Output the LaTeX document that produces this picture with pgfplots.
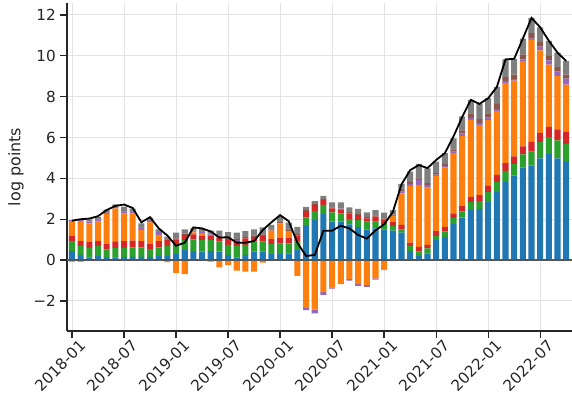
\documentclass[border=0pt]{standalone}
\usepackage{pgfplots}
\pgfplotsset{compat=1.18}
\usepackage{pgfplotstable}
\usetikzlibrary{calc}
\usepackage{fontspec}
\setmainfont{DejaVu Sans}
\definecolor{cB}{HTML}{1F77B4}
\definecolor{cO}{HTML}{FF7F0E}
\definecolor{cG}{HTML}{2CA02C}
\definecolor{cR}{HTML}{D62728}
\definecolor{cP}{HTML}{9467BD}
\definecolor{cBr}{HTML}{8C564B}
\definecolor{cGy}{HTML}{7F7F7F}
\definecolor{gridc}{HTML}{E3E3E3}
\definecolor{spine}{HTML}{262626}
\definecolor{zeroc}{HTML}{555555}

\pgfplotstableread{
m B G R O P Br Gy On Pn Gyn L
0 0.44 0.49 0.25 0.73 0.05 0 0 0 0 -0.08 1.93
1 0.25 0.44 0.24 0.98 0.05 0 0 0 0 -0.08 2.00
2 0.13 0.47 0.30 0.90 0.08 0.02 0.08 0 0 0 2.03
3 0.20 0.49 0.24 0.95 0.08 0.02 0.14 0 0 0 2.15
4 0.11 0.41 0.26 1.47 0.07 0.03 0.12 0 0 0 2.45
5 0.13 0.47 0.31 1.62 0.08 0.02 0.10 0 0 0 2.65
6 0.15 0.45 0.33 1.36 0.08 0.04 0.20 0 0 0 2.72
7 0.16 0.46 0.33 1.34 0.08 0.03 0.12 0 0 0 2.55
8 0.16 0.46 0.31 0.54 0.10 0.03 0.20 0 0 0 1.85
9 0.16 0.38 0.24 1.07 0.08 0.02 0.12 0 0 0 2.10
10 0.21 0.41 0.31 0.30 0.15 0.02 0.10 0 0 0 1.55
11 0.21 0.48 0.29 0 0.05 0.02 0.10 -0.10 0 0 1.20
12 0.29 0.45 0.24 0 0.04 0.04 0.28 -0.62 0 0 0.70
13 0.49 0.49 0.25 0 0 0.07 0.20 -0.69 0 0 0.85
14 0.44 0.57 0.25 0.10 0.04 0.04 0.14 0 0 0 1.60
15 0.41 0.57 0.22 0.12 0.05 0.03 0.12 0 0 0 1.55
16 0.44 0.54 0.23 0 0.05 0.04 0.14 -0.08 0 0 1.40
17 0.41 0.49 0.20 0 0.04 0.06 0.24 -0.36 0 0 1.10
18 0.25 0.49 0.29 0 0 0.05 0.29 -0.25 0 0 1.12
19 0.13 0.56 0.25 0 0.05 0.04 0.31 -0.52 0 0 0.85
20 0.25 0.49 0.32 0 0 0.06 0.30 -0.57 0 0 0.85
21 0.41 0.49 0.24 0 0 0.06 0.30 -0.57 0 0 0.93
22 0.41 0.49 0.29 0 0 0.06 0.35 -0.13 0 0 1.47
23 0.29 0.49 0.25 0.41 0 0.06 0.22 0 0 0 1.85
24 0.29 0.53 0.28 0.70 0 0.08 0.26 0 0 0 2.20
25 0.33 0.49 0.26 0.34 0 0.08 0.33 0 0 0 1.90
26 0.49 0.41 0.30 0 0 0.08 0.35 -0.77 0 0 0.84
27 1.68 0.41 0.30 0 0 0.06 0.15 -2.34 -0.11 0 0.20
28 1.96 0.44 0.30 0 0 0.05 0.14 -2.42 -0.19 0 0.25
29 2.25 0.45 0.24 0 0 0.04 0.16 -1.57 -0.13 0 1.44
30 1.88 0.46 0.19 0 0 0.05 0.25 -1.34 -0.06 0 1.44
31 1.88 0.41 0.19 0 0.04 0 0.31 -1.18 0 0 1.68
32 1.75 0.26 0.28 0 0 0.06 0.23 -0.93 -0.08 0 1.55
33 1.63 0.33 0.24 0 0 0.06 0.24 -1.18 -0.08 0 1.23
34 1.50 0.38 0.16 0 0 0.06 0.24 -1.23 -0.08 0 1.05
35 1.55 0.33 0.25 0 0 0.06 0.26 -0.90 -0.05 0 1.45
36 1.50 0.26 0.23 0 0 0.05 0.28 -0.46 -0.03 0 1.75
37 1.44 0.23 0.19 0.30 0.04 0.03 0.22 0 -0.05 0 2.35
38 1.34 0.16 0.22 1.55 0.08 0.08 0.30 0 0 0 3.70
39 0.44 0.25 0.16 2.78 0.10 0.10 0.50 0 0 0 4.40
40 0.20 0.21 0.24 3.03 0.24 0.08 0.71 0 0 0 4.65
41 0.33 0.24 0.17 2.81 0.13 0.08 0.73 0 0 0 4.50
42 0.98 0.21 0.23 2.70 0.06 0.08 0.56 0 0 0 4.90
43 1.14 0.25 0.24 2.90 0.08 0.10 0.52 0 0 0 5.23
44 1.76 0.30 0.23 2.94 0.08 0.10 0.55 0 0 0 6.05
45 2.08 0.30 0.28 3.42 0.12 0.15 0.68 0 0 0 7.00
46 2.44 0.40 0.25 3.76 0.11 0.22 0.66 0 0 0 7.84
47 2.51 0.38 0.29 3.42 0.12 0.18 0.74 0 0 0 7.64
48 2.84 0.49 0.30 3.22 0.12 0.21 0.74 0 0 0 7.92
49 3.33 0.50 0.34 3.12 0.10 0.25 0.83 0 0 0 8.47
50 3.83 0.54 0.37 3.92 0.10 0.20 0.86 0 0 0 9.82
51 4.13 0.57 0.37 3.71 0.08 0.22 0.77 0 0 0 9.85
52 4.54 0.63 0.39 4.18 0.08 0.25 0.77 0 0 0 10.84
53 4.62 0.69 0.47 4.98 0.08 0.26 0.75 0 0 0 11.85
54 4.98 0.80 0.44 4.04 0.19 0.23 0.71 0 0 0 11.39
55 5.18 0.84 0.50 3.05 0.20 0.21 0.75 0 0 0 10.73
56 4.98 0.88 0.54 2.60 0.22 0.22 0.71 0 0 0 10.15
57 4.79 0.90 0.58 2.31 0.30 0.20 0.66 0 0 0 9.74
}\data

\pgfplotsset{
  base/.style={scale only axis, width=505bp, height=328bp,
    xmin=-0.58, xmax=57.67, ymin=-3.47, ymax=12.58},
}

\begin{document}
\begin{tikzpicture}
\begin{axis}[base, ybar stacked, bar width=0.7,
  axis x line*=bottom, axis y line*=left,
  axis line style={color=spine, line width=1.3bp},
  grid=major, grid style={color=gridc, line width=1bp},
  xtick={0,6,...,54},
  xticklabels={2018-01,2018-07,2019-01,2019-07,2020-01,2020-07,2021-01,2021-07,2022-01,2022-07},
  ytick={-2,0,...,12},
  yticklabels={−2,0,2,4,6,8,10,12},
  tick align=outside, major tick length=7bp,
  tick style={color=spine, line width=1.3bp},
  /pgf/number format/assume math mode=true,
  tick label style={font=\fontsize{15.3}{16}\selectfont, text=spine},
  xticklabel style={rotate=45, anchor=north east, inner sep=1bp, xshift=5bp, yshift=-4bp},
  yticklabel style={inner sep=2bp, xshift=-2bp},
  ylabel={log points},
  ylabel style={font=\fontsize{16}{17}\selectfont, text=spine,
    at={(axis description cs:-0.101,0.5)}, anchor=center},
  every axis plot/.append style={draw=none},
]
\coordinate (sw) at (rel axis cs:0,0);
\coordinate (ne) at (rel axis cs:1,1);
\addplot[fill=cB] table[x=m,y=B]{\data};
\addplot[fill=cG] table[x=m,y=G]{\data};
\addplot[fill=cR] table[x=m,y=R]{\data};
\addplot[fill=cO] table[x=m,y=O]{\data};
\addplot[fill=cP] table[x=m,y=P]{\data};
\addplot[fill=cBr] table[x=m,y=Br]{\data};
\addplot[fill=cGy] table[x=m,y=Gy]{\data};
\end{axis}
\begin{axis}[base, ybar stacked, bar width=0.7, hide axis,
  every axis plot/.append style={draw=none}]
\addplot[fill=cO] table[x=m,y=On]{\data};
\addplot[fill=cP] table[x=m,y=Pn]{\data};
\addplot[fill=cGy] table[x=m,y=Gyn]{\data};
\end{axis}
\begin{axis}[base, hide axis]
\addplot[color=zeroc, line width=1.6bp] coordinates {(-0.58,0) (57.67,0)};
\addplot[color=black, line width=1.8bp, mark=none] table[x=m,y=L]{\data};
\end{axis}
\pgfresetboundingbox
\useasboundingbox ($(sw)+(-67bp,-70bp)$) rectangle ($(ne)+(0bp,3bp)$);
\end{tikzpicture}
\end{document}
